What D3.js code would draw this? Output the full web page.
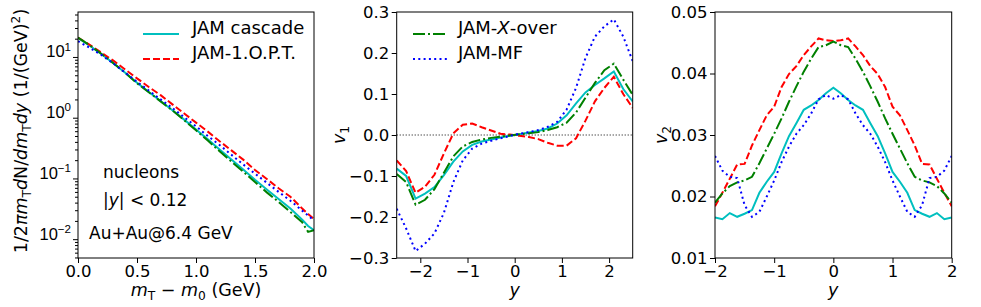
<!DOCTYPE html>
<head>
    <meta charset="utf-8">
    <script src="https://d3js.org/d3.v7.min.js"></script>
</head>

<body style="margin:0; background: white">
    <div id="my_dataviz"></div>

    <script>
        // ---- panel 1: mT spectra of nucleons, |y| < 0.12
        const mtGrid = [0.0, 0.1, 0.2, 0.3, 0.4, 0.5, 0.6, 0.7, 0.8, 0.9, 1.0, 1.1, 1.2, 1.3, 1.4, 1.5, 1.6, 1.7, 1.8, 1.9, 1.95, 2.0];
        const specCascade = [20.5, 15.3, 11.1, 7.9, 5.5, 3.75, 2.65, 1.88, 1.33, 0.93, 0.64, 0.44, 0.30, 0.205, 0.14, 0.095, 0.066, 0.046, 0.032, 0.021, 0.0165, 0.014];
        const specOpt = [20.9, 15.8, 11.7, 8.7, 6.2, 4.45, 3.2, 2.35, 1.66, 1.17, 0.83, 0.59, 0.41, 0.29, 0.204, 0.138, 0.098, 0.069, 0.050, 0.032, 0.026, 0.0214];
        const specXover = [20.9, 15.5, 11.2, 7.9, 5.5, 3.7, 2.63, 1.86, 1.32, 0.91, 0.62, 0.42, 0.28, 0.19, 0.129, 0.087, 0.059, 0.041, 0.028, 0.019, 0.0132, 0.0141];
        const specMF = [18.2, 14.1, 10.7, 7.8, 5.5, 3.9, 2.8, 2.0, 1.45, 1.02, 0.72, 0.50, 0.355, 0.245, 0.17, 0.12, 0.085, 0.06, 0.043, 0.0295, 0.0245, 0.0204];

        // ---- panel 2: directed flow v1(y)
        const rapV1 = [-2.5, -2.3, -2.1, -1.9, -1.7, -1.5, -1.3, -1.1, -0.9, -0.7, -0.5, -0.3, -0.1, 0.1, 0.3, 0.5, 0.7, 0.9, 1.1, 1.3, 1.5, 1.7, 1.9, 2.1, 2.3, 2.5];
        const v1Cascade = [-0.082, -0.100, -0.155, -0.143, -0.127, -0.098, -0.065, -0.040, -0.024, -0.016, -0.011, -0.006, -0.002, 0.002, 0.006, 0.010, 0.016, 0.028, 0.048, 0.077, 0.104, 0.122, 0.138, 0.155, 0.112, 0.082];
        const v1Opt = [-0.062, -0.088, -0.141, -0.126, -0.097, -0.045, 0.004, 0.025, 0.028, 0.019, 0.011, 0.003, 0.001, -0.002, -0.005, -0.010, -0.019, -0.026, -0.026, -0.008, 0.035, 0.082, 0.115, 0.142, 0.100, 0.066];
        const v1Xover = [-0.095, -0.115, -0.170, -0.158, -0.132, -0.092, -0.052, -0.028, -0.017, -0.011, -0.007, -0.004, -0.001, 0.002, 0.004, 0.007, 0.012, 0.019, 0.030, 0.055, 0.091, 0.127, 0.158, 0.174, 0.135, 0.098];
        const v1MF = [-0.180, -0.228, -0.283, -0.265, -0.240, -0.190, -0.115, -0.062, -0.033, -0.021, -0.014, -0.008, -0.002, 0.003, 0.007, 0.012, 0.020, 0.032, 0.062, 0.115, 0.188, 0.240, 0.265, 0.282, 0.240, 0.180];

        // ---- panel 3: elliptic flow v2(y)
        const rapV2 = [-2, -1.875, -1.75, -1.625, -1.5, -1.375, -1.25, -1.125, -1, -0.875, -0.75, -0.625, -0.5, -0.375, -0.25, -0.125, 0,
            0.125, 0.25, 0.375, 0.5, 0.625, 0.75, 0.875, 1, 1.125, 1.25, 1.375, 1.5, 1.625, 1.75, 1.875, 2];
        const v2Cascade = [0.0166, 0.0163, 0.0173, 0.0167, 0.0172, 0.0178, 0.0206, 0.0224, 0.0240, 0.0270, 0.0298, 0.0319, 0.0341, 0.0348, 0.0357, 0.0368, 0.0377,
            0.0368, 0.0357, 0.0348, 0.0341, 0.0319, 0.0298, 0.0270, 0.0240, 0.0224, 0.0206, 0.0178, 0.0172, 0.0167, 0.0173, 0.0163, 0.0166];
        const v2Opt = [0.0184, 0.0206, 0.0229, 0.0252, 0.0253, 0.0283, 0.0308, 0.0332, 0.0346, 0.0378, 0.0399, 0.0412, 0.0430, 0.0444, 0.0457, 0.0454, 0.0453,
            0.0454, 0.0457, 0.0444, 0.0430, 0.0412, 0.0399, 0.0378, 0.0346, 0.0332, 0.0308, 0.0283, 0.0253, 0.0252, 0.0229, 0.0206, 0.0184];
        const v2Xover = [0.0190, 0.0205, 0.0217, 0.0223, 0.0226, 0.0232, 0.0254, 0.0278, 0.0302, 0.0327, 0.0354, 0.0379, 0.0403, 0.0424, 0.0443, 0.0446, 0.0452,
            0.0446, 0.0443, 0.0424, 0.0403, 0.0379, 0.0354, 0.0327, 0.0302, 0.0278, 0.0254, 0.0232, 0.0226, 0.0223, 0.0217, 0.0205, 0.0190];
        const v2MF = [0.0266, 0.0242, 0.0232, 0.0230, 0.0186, 0.0167, 0.0175, 0.0200, 0.0226, 0.0256, 0.0281, 0.0302, 0.0316, 0.0335, 0.0358, 0.0365, 0.0359,
            0.0365, 0.0358, 0.0335, 0.0316, 0.0302, 0.0281, 0.0256, 0.0226, 0.0200, 0.0175, 0.0167, 0.0186, 0.0230, 0.0232, 0.0242, 0.0266];

        const v1Ticks = [-0.3, -0.2, -0.1, 0.0, 0.1, 0.2, 0.3];
        const v2Ticks = [0.01, 0.02, 0.03, 0.04, 0.05];
        const logTicks = [0.01, 0.1, 1, 10];

        // line styles, same order as matplotlib drew them
        const styles = {
            cascade: { color: "#00bfbf", dash: null },
            opt: { color: "#ff0000", dash: "7,3" },
            xover: { color: "#008000", dash: "12,3,2,3" },
            mf: { color: "#0000ff", dash: "2,3.3" }
        };

        const fs = 16.5;   // tick labels
        const fl = 17.5;   // axis labels
        const fg = 18;     // legend
        const fa = 17;     // annotations
        const font = "DejaVu Sans";

        var svg = d3.select("#my_dataviz")
            .append("svg")
            .attr("width", 981)
            .attr("height", 307)
            .style("font-family", font);

        // rich text: parts = [{t, i, s}] with s = "sub" | "sup"
        function rich(sel, parts, size) {
            let prev = 0;
            parts.forEach(p => {
                const shift = p.s === "sub" ? size * 0.22 : p.s === "sup" ? -size * 0.42 : 0;
                const t = sel.append("tspan").text(p.t).attr("dy", shift - prev);
                if (p.i) t.style("font-style", "italic");
                if (p.s) t.attr("font-size", size * 0.7);
                prev = shift;
            });
        }

        function panel(left, right, id) {
            const g = svg.append("g").attr("transform", "translate(" + left + ",12)");
            g.append("clipPath").attr("id", id).append("rect")
                .attr("width", right - left).attr("height", 246);
            return g;
        }

        function drawLine(g, id, xs, ys, x, y, st) {
            const line = d3.line().x((d, i) => x(xs[i])).y(d => y(d));
            g.append("path")
                .datum(ys)
                .attr("clip-path", "url(#" + id + ")")
                .attr("fill", "none")
                .attr("stroke", st.color)
                .attr("stroke-width", 2)
                .attr("stroke-dasharray", st.dash)
                .attr("d", line);
        }

        function styleAxis(a) {
            a.select(".domain").remove();
            a.selectAll("text").attr("font-size", fs).attr("fill", "black").style("font-family", font);
            a.selectAll("line").attr("stroke", "black");
        }

        function frame(g, w) {
            g.append("rect").attr("width", w).attr("height", 246)
                .attr("fill", "none").attr("stroke", "black").attr("stroke-width", 1);
        }

        // ================= panel 1
        const w1 = 314 - 78;
        const g1 = panel(78, 314, "c1");
        const x1 = d3.scaleLinear().domain([0, 2]).range([0, w1]);
        const y1 = d3.scaleLog().domain([0.0049, 55]).range([246, 0]);

        g1.append("g").attr("transform", "translate(0,246)")
            .call(d3.axisBottom(x1).tickValues([0, 0.5, 1, 1.5, 2]).tickFormat(d3.format(".1f")).tickSize(5).tickPadding(2))
            .call(styleAxis);

        const minor = [];
        [0.001, 0.01, 0.1, 1, 10].forEach(b => { for (let k = 2; k <= 9; k++) minor.push(b * k); });
        g1.append("g")
            .call(d3.axisLeft(y1).tickValues(minor.filter(v => v >= 0.0049 && v <= 55)).tickFormat("").tickSize(3))
            .call(styleAxis);
        const ya = g1.append("g")
            .call(d3.axisLeft(y1).tickValues(logTicks).tickFormat("").tickSize(5))
            .call(styleAxis);
        ya.selectAll(".tick").each(function (d) {
            const t = d3.select(this).append("text")
                .attr("x", -7).attr("dy", "0.32em").attr("text-anchor", "end")
                .attr("font-size", fs).attr("fill", "black");
            const e = Math.round(Math.log10(d));
            rich(t, [{ t: "10" }, { t: (e < 0 ? "\u2212" : "") + Math.abs(e), s: "sup" }], fs);
        });

        drawLine(g1, "c1", mtGrid, specCascade, x1, y1, styles.cascade);
        drawLine(g1, "c1", mtGrid, specOpt, x1, y1, styles.opt);
        drawLine(g1, "c1", mtGrid, specXover, x1, y1, styles.xover);
        drawLine(g1, "c1", mtGrid, specMF, x1, y1, styles.mf);
        frame(g1, w1);

        // annotations
        g1.append("text").attr("x", 25).attr("y", 166).attr("font-size", fa).text("nucleons");
        rich(g1.append("text").attr("x", 25).attr("y", 194).attr("font-size", fa),
            [{ t: "|" }, { t: "y", i: true }, { t: "| < 0.12" }], fa);
        g1.append("text").attr("x", 11).attr("y", 227).attr("font-size", fa).text("Au+Au@6.4 GeV");

        // axis labels
        rich(svg.append("text").attr("x", 196).attr("y", 296).attr("text-anchor", "middle").attr("font-size", fl),
            [{ t: "m", i: true }, { t: "T", s: "sub" }, { t: " \u2212 " }, { t: "m", i: true }, { t: "0", s: "sub" }, { t: " (GeV)" }], fl);
        rich(svg.append("text").attr("transform", "translate(27,131) rotate(-90)").attr("text-anchor", "middle").attr("font-size", fl),
            [{ t: "1/2" }, { t: "\u03c0m", i: true }, { t: "T", s: "sub" }, { t: "d", i: true }, { t: "N/" }, { t: "dm", i: true }, { t: "T", s: "sub" }, { t: "dy", i: true }, { t: " (1/(GeV)" }, { t: "2", s: "sup" }, { t: ")" }], fl);

        // legend 1
        const leg1 = [[styles.cascade, [{ t: "JAM cascade" }]], [styles.opt, [{ t: "JAM-1.O.P.T." }]]];
        leg1.forEach((l, i) => {
            svg.append("line").attr("x1", 143).attr("x2", 179).attr("y1", 34 + i * 25).attr("y2", 34 + i * 25)
                .attr("stroke", l[0].color).attr("stroke-width", 2).attr("stroke-dasharray", l[0].dash);
            rich(svg.append("text").attr("x", 192).attr("y", 34 + i * 25).attr("dy", "0.36em").attr("font-size", fg), l[1], fg);
        });

        // ================= panel 2
        const w2 = 632.7 - 396.7;
        const g2 = panel(396.7, 632.7, "c2");
        const x2 = d3.scaleLinear().domain([-2.5, 2.5]).range([0, w2]);
        const y2 = d3.scaleLinear().domain([-0.3, 0.3]).range([246, 0]);
        g2.append("g").attr("transform", "translate(0,246)")
            .call(d3.axisBottom(x2).tickValues([-2, -1, 0, 1, 2]).tickFormat(d3.format("d")).tickSize(5).tickPadding(2))
            .call(styleAxis);
        g2.append("g")
            .call(d3.axisLeft(y2).tickValues(v1Ticks).tickFormat(d3.format(".1f")).tickSize(5).tickPadding(2.5))
            .call(styleAxis);
        g2.append("line").attr("x1", 0).attr("x2", w2).attr("y1", y2(0)).attr("y2", y2(0))
            .attr("stroke", "black").attr("stroke-width", 1).attr("stroke-dasharray", "1,2");

        drawLine(g2, "c2", rapV1, v1Cascade, x2, y2, styles.cascade);
        drawLine(g2, "c2", rapV1, v1Opt, x2, y2, styles.opt);
        drawLine(g2, "c2", rapV1, v1Xover, x2, y2, styles.xover);
        drawLine(g2, "c2", rapV1, v1MF, x2, y2, styles.mf);
        frame(g2, w2);

        svg.append("text").attr("x", 514.7).attr("y", 296).attr("text-anchor", "middle")
            .attr("font-size", fl).style("font-style", "italic").text("y");
        rich(svg.append("text").attr("transform", "translate(345,135) rotate(-90)").attr("text-anchor", "middle").attr("font-size", fl),
            [{ t: "v", i: true }, { t: "1", s: "sub" }], fl);

        const leg2 = [[styles.xover, [{ t: "JAM-" }, { t: "X", i: true }, { t: "-over" }]], [styles.mf, [{ t: "JAM-MF" }]]];
        leg2.forEach((l, i) => {
            svg.append("line").attr("x1", 413).attr("x2", 447).attr("y1", 34 + i * 25).attr("y2", 34 + i * 25)
                .attr("stroke", l[0].color).attr("stroke-width", 2).attr("stroke-dasharray", l[0].dash);
            rich(svg.append("text").attr("x", 458).attr("y", 34 + i * 25).attr("dy", "0.36em").attr("font-size", fg), l[1], fg);
        });

        // ================= panel 3
        const w3 = 951.7 - 715;
        const g3 = panel(715, 951.7, "c3");
        const x3 = d3.scaleLinear().domain([-2, 2]).range([0, w3]);
        const y3 = d3.scaleLinear().domain([0.01, 0.05]).range([246, 0]);
        g3.append("g").attr("transform", "translate(0,246)")
            .call(d3.axisBottom(x3).tickValues([-2, -1, 0, 1, 2]).tickFormat(d3.format("d")).tickSize(5).tickPadding(2))
            .call(styleAxis);
        g3.append("g")
            .call(d3.axisLeft(y3).tickValues(v2Ticks).tickFormat(d3.format(".2f")).tickSize(5).tickPadding(2.5))
            .call(styleAxis);

        drawLine(g3, "c3", rapV2, v2Cascade, x3, y3, styles.cascade);
        drawLine(g3, "c3", rapV2, v2Opt, x3, y3, styles.opt);
        drawLine(g3, "c3", rapV2, v2Xover, x3, y3, styles.xover);
        drawLine(g3, "c3", rapV2, v2MF, x3, y3, styles.mf);
        frame(g3, w3);

        svg.append("text").attr("x", 833.3).attr("y", 296).attr("text-anchor", "middle")
            .attr("font-size", fl).style("font-style", "italic").text("y");
        rich(svg.append("text").attr("transform", "translate(667,135) rotate(-90)").attr("text-anchor", "middle").attr("font-size", fl),
            [{ t: "v", i: true }, { t: "2", s: "sub" }], fl);
    </script>
</body>

</html>
